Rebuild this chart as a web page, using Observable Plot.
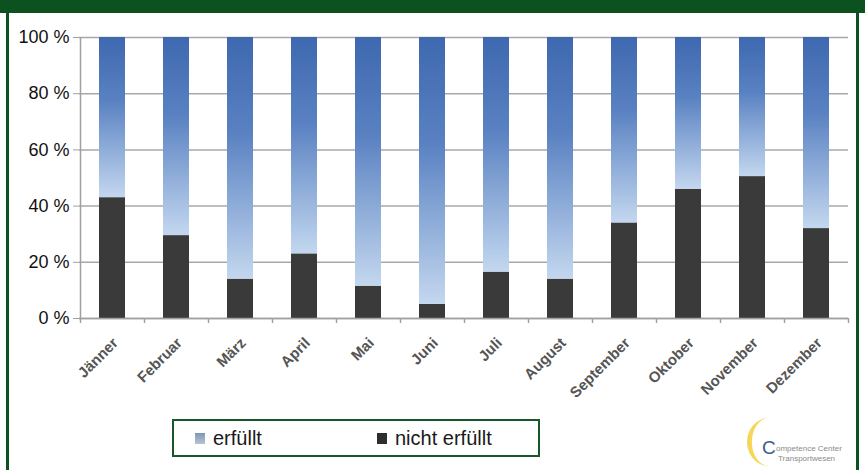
<!DOCTYPE html>
<html>
<head>
<meta charset="utf-8">
<script src="https://cdn.jsdelivr.net/npm/d3@7"></script>
<script src="https://cdn.jsdelivr.net/npm/@observablehq/plot@0.6"></script>
<style>
  html, body { margin: 0; padding: 0; background: #fff; }
  body { width: 865px; height: 470px; overflow: hidden; position: relative;
         font-family: "Liberation Sans", Arial, Helvetica, sans-serif; }
  #topband { position: absolute; left: 0; top: 0; width: 865px; height: 13px; background: #0b5220; }
  #frame { position: absolute; left: 6px; top: 13px; width: 847px; height: 470px;
           border-left: 3px solid #0b5220; border-right: 3px solid #0b5220; }
  #chart { position: absolute; left: 0; top: 0; }
  #legend { position: absolute; left: 172px; top: 419px; width: 364px; height: 34px;
            border: 2px solid #17582a; background: #fff; }
  .li { position: absolute; top: 6px; font-size: 20px; color: #1a1a1a; line-height: 22px; }
  .sw { position: absolute; top: 12px; width: 10px; height: 11px; }
  #logo { position: absolute; left: 745px; top: 414px; }
</style>
</head>
<body>
<div id="topband"></div>
<div id="frame"></div>
<div id="chart"></div>
<div id="legend">
  <div class="sw" style="left:21px;background:linear-gradient(#8096b0,#b5c4d6);"></div>
  <div class="li" style="left:39px;">erfüllt</div>
  <div class="sw" style="left:203px;background:#2e2e2e;"></div>
  <div class="li" style="left:221px;">nicht erfüllt</div>
</div>
<svg id="logo" width="115" height="56" viewBox="0 0 115 56">
  <path d="M 24 4 A 22 24 0 0 0 24 52 A 15 21 0 0 1 24 4 Z" fill="#f2cf3c" opacity="0.85"/>
  <text x="17" y="40" font-size="19" fill="#3b5b8e" font-family="Liberation Sans, Arial">C</text>
  <text x="31" y="37" font-size="8" fill="#8a8a8a" font-family="Liberation Sans, Arial">ompetence Center</text>
  <text x="33" y="47" font-size="8" fill="#8a8a8a" font-family="Liberation Sans, Arial">Transportwesen</text>
</svg>
<script>
const months = ["Jänner","Februar","März","April","Mai","Juni","Juli","August","September","Oktober","November","Dezember"];
const nichtErfuellt = [43, 29.5, 14, 23, 11.5, 5, 16.5, 14, 34, 46, 50.5, 32];
const erfuellt = [57, 70.5, 86, 77, 88.5, 95, 83.5, 86, 66, 54, 49.5, 68];
const yTicks = [0, 20, 40, 60, 80, 100];
const yTickLabels = ["0 %", "20 %", "40 %", "60 %", "80 %", "100 %"];

const rows = months.map((m, i) => ({month: m, nicht: nichtErfuellt[i], erf: erfuellt[i]}));

const defs = () => {
  const d = d3.create("svg:defs");
  const g = d.append("linearGradient").attr("id", "blueGrad")
    .attr("x1", 0).attr("y1", 0).attr("x2", 0).attr("y2", 1);
  g.append("stop").attr("offset", "0%").attr("stop-color", "#3e68b0");
  g.append("stop").attr("offset", "40%").attr("stop-color", "#5a82c2");
  g.append("stop").attr("offset", "100%").attr("stop-color", "#c3d7ef");
  return d.node();
};

const chart = Plot.plot({
  width: 865,
  height: 400,
  marginLeft: 79,
  marginRight: 17,
  marginTop: 37,
  marginBottom: 82,
  style: {background: "transparent", fontFamily: "Liberation Sans, Arial, Helvetica, sans-serif"},
  x: {domain: months, paddingInner: 0.6, paddingOuter: 0.3, axis: null},
  y: {domain: [0, 100]},
  marks: [
    defs,
    Plot.ruleY(yTicks, {stroke: "#a8a8a8", strokeWidth: 1.5}),
    Plot.barY(rows, {x: "month", y1: 0, y2: "nicht", fill: "#3a3a3a"}),
    Plot.barY(rows, {x: "month", y1: "nicht", y2: d => d.nicht + d.erf, fill: "url(#blueGrad)"}),
    Plot.ruleX([months[0]], {x: d => d, dx: -32, stroke: "#a0a0a0", strokeWidth: 1.5}),
    Plot.ruleY([0], {stroke: "#a0a0a0", strokeWidth: 1.5}),
    Plot.ruleX(months, {x: d => d, y1: 0, y2: 0, insetBottom: -5, dx: -32, stroke: "#a0a0a0", strokeWidth: 1.5}),
    Plot.ruleX([months[months.length - 1]], {x: d => d, y1: 0, y2: 0, insetBottom: -5, dx: 32, stroke: "#a0a0a0", strokeWidth: 1.5}),
    Plot.axisY({ticks: yTicks, tickFormat: d => yTickLabels[yTicks.indexOf(d)], tickSize: 6, tickPadding: 4,
                fontSize: 18, stroke: "#a0a0a0", fill: "#111", label: null}),
    Plot.text(months, {x: d => d, y: 0, text: d => d, rotate: -45, textAnchor: "end", lineAnchor: "middle",
                       dx: 3, dy: 22, fontSize: 15, fontWeight: "bold", fill: "#555"})
  ]
});
document.getElementById("chart").appendChild(chart);
</script>
</body>
</html>
